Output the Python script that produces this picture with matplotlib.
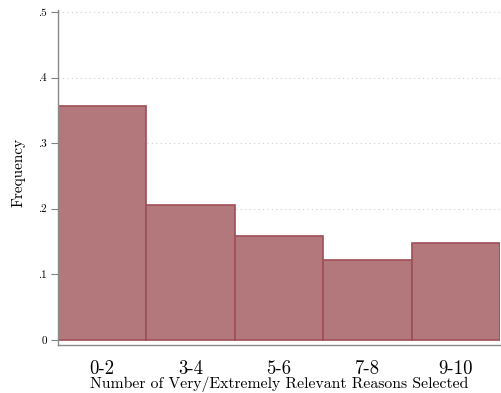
import matplotlib
matplotlib.use("Agg")
import matplotlib.pyplot as plt

# Share of respondents by number of very/extremely relevant reasons selected
categories = ["0-2", "3-4", "5-6", "7-8", "9-10"]
frequency = [0.356, 0.205, 0.159, 0.121, 0.148]
ytick_values = [0, 0.1, 0.2, 0.3, 0.4, 0.5]
ytick_labels = ["0", ".1", ".2", ".3", ".4", ".5"]

plt.rcParams["font.family"] = ["cmr10", "DejaVu Serif"]
plt.rcParams["axes.formatter.use_mathtext"] = True

fig = plt.figure(figsize=(5.01, 3.93), dpi=100)
ax = fig.add_axes([0.1158, 0.1221, 0.8822, 0.8525])

positions = list(range(len(categories)))
ax.bar(positions, frequency, width=1.0, align="center",
       color="#b3787b", edgecolor="#a04e57", linewidth=1.2, zorder=2)

ax.set_xlim(-0.5, len(categories) - 0.5)
ax.set_ylim(-0.008, 0.503)

ax.set_yticks(ytick_values)
ax.set_yticklabels(ytick_labels, fontsize=8)
ax.set_xticks(positions)
ax.set_xticklabels(categories, fontsize=13.5)
ax.tick_params(axis="x", length=0, pad=11)
ax.tick_params(axis="y", length=5, width=0.8, color="#808080", pad=3)

for y in ytick_values[1:]:
    ax.axhline(y, color="#d0d0d0", linestyle=(0, (1, 3)), linewidth=0.8, zorder=1)

for side in ["top", "right"]:
    ax.spines[side].set_visible(False)
for side in ["left", "bottom"]:
    ax.spines[side].set_color("#8a8a8a")
    ax.spines[side].set_linewidth(1.0)

ax.set_xlabel("Number of Very/Extremely Relevant Reasons Selected", fontsize=11.3, labelpad=-1)
ax.set_ylabel("Frequency", fontsize=11)
ax.yaxis.set_label_coords(-0.073, 0.515)

fig.savefig("out.png", dpi=100, facecolor="white")
